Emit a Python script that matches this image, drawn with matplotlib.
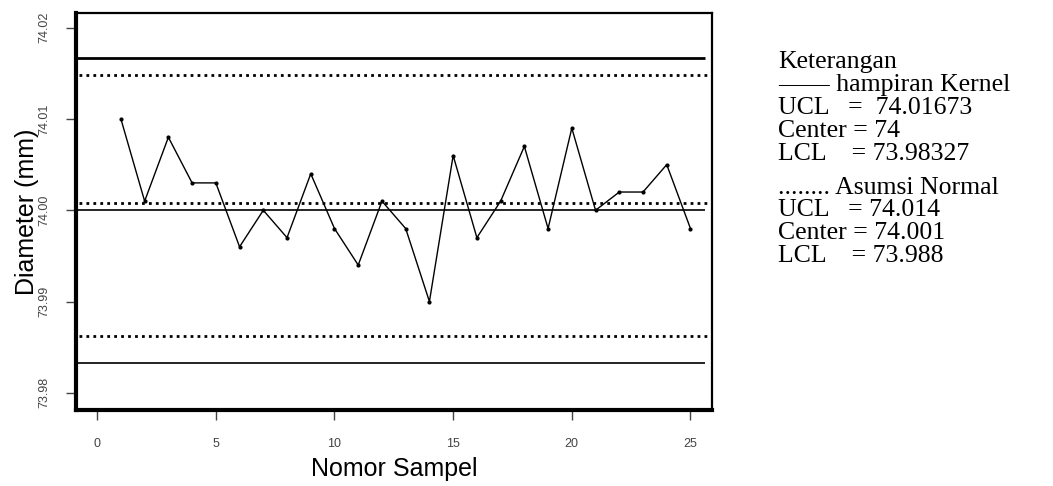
import numpy as np
import matplotlib.pyplot as plt

plt.rcParams['font.family'] = ['Liberation Sans', 'DejaVu Sans']

# Data pengamatan (diameter piston ring)
sampel = np.arange(1, 26)
diameter = [74.010, 74.001, 74.008, 74.003, 74.003, 73.996, 74.000, 73.997,
            74.004, 73.998, 73.994, 74.001, 73.998, 73.990, 74.006, 73.997,
            74.001, 74.007, 73.998, 74.009, 74.000, 74.002, 74.002, 74.005,
            73.998]

# Batas kendali
kernel_ucl, kernel_cl, kernel_lcl = 74.01673, 74.0, 73.98327
normal_ucl, normal_cl, normal_lcl = 74.0148, 74.0008, 73.9862

keterangan = ['Keterangan', '\u2014\u2014 hampiran Kernel', 'UCL   =  74.01673',
              'Center = 74', 'LCL    = 73.98327']
keterangan2 = ['........ Asumsi Normal', 'UCL   = 74.014',
               'Center = 74.001', 'LCL    = 73.988']

fig = plt.figure(figsize=(10.53, 4.86), dpi=100)
ax = fig.add_axes([0.072, 0.156, 0.604, 0.817])

x0, x1 = -0.9, 25.6
ax.hlines(kernel_ucl, x0, x1, color='black', linewidth=2.0)
ax.hlines([kernel_cl, kernel_lcl], x0, x1, color='black', linewidth=1.2)
ax.hlines([normal_ucl, normal_cl, normal_lcl], x0 + 0.15, x1 + 0.1, color='black',
          linewidth=2.0, linestyles=(0, (1, 1.5)))

ax.plot(sampel, diameter, color='black', linewidth=1.0, marker='o', markersize=2)

ax.set_xlim(-0.9, 25.9)
ax.set_ylim(73.9781, 74.0216)
ax.set_xticks([0, 5, 10, 15, 20, 25])
ax.set_yticks([73.98, 73.99, 74.00, 74.01, 74.02])
ax.set_yticklabels(['73.98', '73.99', '74.00', '74.01', '74.02'], rotation=90, va='center')
ax.tick_params(direction='out', length=7, width=1, color='#444444',
               labelcolor='#444444', labelsize=9)
ax.tick_params(axis='x', pad=13)
ax.tick_params(axis='y', pad=11)

for side in ['left', 'bottom']:
    ax.spines[side].set_linewidth(3)
for side in ['top', 'right']:
    ax.spines[side].set_linewidth(1.6)

ax.set_xlabel('Nomor Sampel', fontsize=18, labelpad=5)
ax.set_ylabel('Diameter (mm)', fontsize=18, labelpad=0)

# Keterangan di sebelah kanan
serif = ['Liberation Serif', 'DejaVu Serif']
y = 1 - 62 / 486
for teks in keterangan:
    fig.text(778 / 1053, y, teks, fontsize=18.5, family=serif, va='center')
    y -= 23 / 486
y = 1 - 188 / 486
for teks in keterangan2:
    fig.text(778 / 1053, y, teks, fontsize=18.5, family=serif, va='center')
    y -= 22.5 / 486

fig.savefig('out.png', dpi=100)
